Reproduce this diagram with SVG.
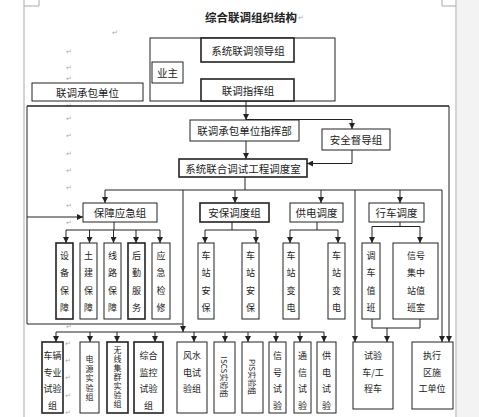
<svg xmlns="http://www.w3.org/2000/svg" width="479" height="417" viewBox="0 0 479 417">
<defs>
<marker id="ah" markerUnits="userSpaceOnUse" markerWidth="6" markerHeight="6" refX="6" refY="3" orient="auto"><path d="M0,0 L6,3 L0,6 z" fill="#222"/></marker>
<style>
.bx{fill:#fff;stroke:#222;stroke-width:1}
.bk{fill:#fff;stroke:#222;stroke-width:1.6}
.t{font-family:"Noto Sans CJK SC","Noto Sans",sans-serif;font-size:10.5px;fill:#222;text-anchor:middle;dominant-baseline:central}
.s{font-size:9px}
.xs{font-size:8px}
.vt{writing-mode:vertical-rl;font-size:8px}
.ln{stroke:#222;stroke-width:1;fill:none}
.ar{stroke:#222;stroke-width:1;fill:none;marker-end:url(#ah)}
.pm{font-family:"DejaVu Sans",sans-serif;font-size:7px;fill:#aaa;text-anchor:middle;dominant-baseline:central}
.pg{stroke:#aaa;stroke-width:1;fill:none}
</style>
</defs>
<rect width="479" height="417" fill="#fff"/>
<rect x="457" y="0" width="22" height="417" fill="#f3f3f3"/>
<g id="page">
<path class="pg" d="M24,0 V417 M24,6 H39 V0 M456,0 V417 M442,0 V6 H456"/>
<text class="t" x="251" y="17" style="font-size:11.5px;font-weight:bold">综合联调组织结构</text>
<g class="pm">
<text x="301" y="18">↵</text><text x="115" y="33">↵</text>
<text x="69" y="52">↵</text><text x="69" y="68">↵</text><text x="69" y="79">↵</text><text x="69" y="106">↵</text><text x="69" y="119">↵</text><text x="69" y="136">↵</text><text x="69" y="154">↵</text><text x="69" y="171">↵</text><text x="69" y="188">↵</text><text x="69" y="206">↵</text><text x="69" y="223">↵</text><text x="69" y="327">↵</text><text x="68" y="344">↵</text><text x="68" y="361">↵</text><text x="68" y="378">↵</text><text x="68" y="396">↵</text><text x="68" y="413">↵</text>
</g>
</g>
<g id="connectors">
<path class="ln" d="M27,106 H449" style="stroke-width:1.6"/>
<path class="ar" d="M449,106 V342"/>
<path class="ln" d="M27,106 V324 H183"/>
<path class="ar" d="M27,217 H83"/>
<path class="ar" d="M247,62 V79"/>
<path class="ar" d="M246,101 V120"/>
<path class="ln" d="M246,119.5 H352"/>
<path class="ar" d="M352,119.5 V129"/>
<path class="ar" d="M246,141 V159"/>
<path class="ar" d="M352,150 V163.5 H307"/>
<path class="ln" d="M245,177 V190 M105,190 H442"/>
<path class="ar" d="M105,190 V203"/><path class="ar" d="M235,190 V203"/><path class="ar" d="M321,190 V203"/><path class="ar" d="M400,190 V203"/>
<path class="ar" d="M183,190 V332"/>
<path class="ar" d="M355,190 V342"/>
<path class="ar" d="M442,190 V342"/>
<path class="ln" d="M114,222 V230 M66,230 H160"/>
<path class="ar" d="M66,230 V243"/><path class="ar" d="M89.5,230 V243"/><path class="ar" d="M113.5,230 V243"/><path class="ar" d="M136,230 V243"/><path class="ar" d="M160,230 V243"/>
<path class="ln" d="M232,222 V230 M205,230 H256"/>
<path class="ar" d="M205,230 V243"/><path class="ar" d="M256,230 V243"/>
<path class="ln" d="M317,222 V230 M290,230 H338"/>
<path class="ar" d="M290,230 V243"/><path class="ar" d="M338,230 V243"/>
<path class="ln" d="M400,222 V226.5 M372,226.5 H420"/>
<path class="ar" d="M372,226.5 V243"/><path class="ar" d="M420,226.5 V243"/>
<path class="ln" d="M372,319 V328 H420 V319"/>
<path class="ar" d="M387,328 V342"/>
<path class="ln" d="M56,332 H324"/>
<path class="ar" d="M56,332 V342"/><path class="ar" d="M90,332 V342"/><path class="ar" d="M117,332 V342"/><path class="ar" d="M155,332 V342"/><path class="ar" d="M194,332 V342"/><path class="ar" d="M225,332 V342"/><path class="ar" d="M248,332 V342"/><path class="ar" d="M276,332 V342"/><path class="ar" d="M300,332 V342"/><path class="ar" d="M324,332 V342"/>
</g>
<g id="owner"><rect class="bx" x="150" y="38" width="185" height="63"/></g>
<g id="lead"><rect class="bk" x="201" y="38" width="93" height="24"/><text class="t" x="248" y="50">系统联调领导组</text></g>
<g id="command"><rect class="bk" x="201" y="79" width="93" height="22"/><text class="t" x="248" y="90">联调指挥组</text></g>
<g id="yezhu"><rect class="bx" x="152" y="62" width="31" height="21"/><text class="t" x="167.5" y="72.5">业主</text></g>
<g id="contractor"><rect class="bx" x="32" y="83" width="111" height="18"/><text class="t" x="87.5" y="92">联调承包单位</text></g>
<g id="hq"><rect class="bx" x="190" y="120" width="109" height="21"/><text class="t" x="244.5" y="130.5">联调承包单位指挥部</text></g>
<g id="safety"><rect class="bx" x="322" y="129" width="68" height="21"/><text class="t" x="356" y="139.5">安全督导组</text></g>
<g id="dispatch"><rect class="bk" x="179" y="159" width="128" height="18"/><text class="t" x="243" y="168">系统联合调试工程调度室</text></g>
<g id="baozhang"><rect class="bx" x="83" y="203" width="74" height="19"/><text class="t" x="120" y="212.5">保障应急组</text></g>
<g id="anbao"><rect class="bk" x="200" y="203" width="69" height="19"/><text class="t" x="234.5" y="212.5">安保调度组</text></g>
<g id="gongdian"><rect class="bx" x="290" y="203" width="53" height="19"/><text class="t" x="316.5" y="212.5">供电调度</text></g>
<g id="xingche"><rect class="bx" x="369" y="203" width="55" height="19"/><text class="t" x="396.5" y="212.5">行车调度</text></g>
<g id="sb1"><rect class="bk" x="56" y="243" width="17" height="76"/><text class="t s"><tspan x="64.5" y="255">设</tspan><tspan x="64.5" y="272">备</tspan><tspan x="64.5" y="290">保</tspan><tspan x="64.5" y="307">障</tspan></text></g>
<g id="sb2"><rect class="bx" x="80" y="243" width="17" height="76"/><text class="t s"><tspan x="88.5" y="255">土</tspan><tspan x="88.5" y="272">建</tspan><tspan x="88.5" y="290">保</tspan><tspan x="88.5" y="307">障</tspan></text></g>
<g id="sb3"><rect class="bx" x="104" y="243" width="17" height="76"/><text class="t s"><tspan x="112.5" y="255">线</tspan><tspan x="112.5" y="272">路</tspan><tspan x="112.5" y="290">保</tspan><tspan x="112.5" y="307">障</tspan></text></g>
<g id="sb4"><rect class="bk" x="128" y="243" width="17" height="76"/><text class="t s"><tspan x="136.5" y="255">后</tspan><tspan x="136.5" y="272">勤</tspan><tspan x="136.5" y="290">服</tspan><tspan x="136.5" y="307">务</tspan></text></g>
<g id="sb5"><rect class="bx" x="152" y="243" width="18" height="76"/><text class="t s"><tspan x="161" y="255">应</tspan><tspan x="161" y="272">急</tspan><tspan x="161" y="290">检</tspan><tspan x="161" y="307">修</tspan></text></g>
<g id="ab1"><rect class="bx" x="198" y="243" width="16" height="76"/><text class="t s"><tspan x="206" y="255">车</tspan><tspan x="206" y="272">站</tspan><tspan x="206" y="290">安</tspan><tspan x="206" y="307">保</tspan></text></g>
<g id="ab2"><rect class="bx" x="242" y="243" width="17" height="76"/><text class="t s"><tspan x="250.5" y="255">车</tspan><tspan x="250.5" y="272">站</tspan><tspan x="250.5" y="290">安</tspan><tspan x="250.5" y="307">保</tspan></text></g>
<g id="gd1"><rect class="bx" x="283" y="243" width="16" height="76"/><text class="t s"><tspan x="291" y="255">车</tspan><tspan x="291" y="272">站</tspan><tspan x="291" y="290">变</tspan><tspan x="291" y="307">电</tspan></text></g>
<g id="gd2"><rect class="bx" x="328" y="243" width="17" height="76"/><text class="t s"><tspan x="336.5" y="255">车</tspan><tspan x="336.5" y="272">站</tspan><tspan x="336.5" y="290">变</tspan><tspan x="336.5" y="307">电</tspan></text></g>
<g id="xc1"><rect class="bx" x="362" y="243" width="18" height="76"/><text class="t s"><tspan x="371" y="255">调</tspan><tspan x="371" y="272">车</tspan><tspan x="371" y="290">值</tspan><tspan x="371" y="307">班</tspan></text></g>
<g id="xc2"><rect class="bx" x="393" y="243" width="45" height="76"/><text class="t s"><tspan x="416" y="255">信号</tspan><tspan x="416" y="272">集中</tspan><tspan x="416" y="290">站值</tspan><tspan x="416" y="307">班室</tspan></text></g>
<g id="b1"><rect class="bk" x="42" y="342" width="21" height="71"/><text class="t s"><tspan x="52.5" y="355">车辆</tspan><tspan x="52.5" y="372">专业</tspan><tspan x="52.5" y="388">试验</tspan><tspan x="52.5" y="405">组</tspan></text></g>
<g id="b2"><rect class="bx" x="80" y="342" width="19" height="71"/><text class="t vt" x="89.5" y="379" style="letter-spacing:1.5px">电源实验组</text></g>
<g id="b3"><rect class="bk" x="107" y="342" width="21" height="71"/><text class="t vt" x="117.5" y="377.5" style="letter-spacing:1px">无线集群实验组</text></g>
<g id="b4"><rect class="bk" x="134" y="342" width="29" height="71"/><text class="t s"><tspan x="148.5" y="355">综合</tspan><tspan x="148.5" y="372">监控</tspan><tspan x="148.5" y="388">试验</tspan><tspan x="148.5" y="405">组</tspan></text></g>
<g id="b5"><rect class="bx" x="177" y="342" width="30" height="71"/><text class="t s"><tspan x="192" y="355">风水</tspan><tspan x="192" y="372">电试</tspan><tspan x="192" y="388">验组</tspan></text></g>
<g id="b6"><rect class="bx" x="214" y="342" width="21" height="71"/><text class="t xs" transform="translate(224.5,377) rotate(90)" x="0" y="0">ISCS实验组</text></g>
<g id="b7"><rect class="bx" x="242" y="342" width="21" height="71"/><text class="t xs" transform="translate(252.5,377) rotate(90)" x="0" y="0">PIS实验组</text></g>
<g id="b8"><rect class="bx" x="269" y="342" width="17" height="71"/><text class="t s"><tspan x="277.5" y="355">信</tspan><tspan x="277.5" y="372">号</tspan><tspan x="277.5" y="388">试</tspan><tspan x="277.5" y="405">验</tspan></text></g>
<g id="b9"><rect class="bx" x="294" y="342" width="17" height="71"/><text class="t s"><tspan x="302.5" y="355">通</tspan><tspan x="302.5" y="372">信</tspan><tspan x="302.5" y="388">试</tspan><tspan x="302.5" y="405">验</tspan></text></g>
<g id="b10"><rect class="bx" x="317" y="342" width="19" height="71"/><text class="t s"><tspan x="326.5" y="355">供</tspan><tspan x="326.5" y="372">电</tspan><tspan x="326.5" y="388">试</tspan><tspan x="326.5" y="405">验</tspan></text></g>
<g id="b11"><rect class="bx" x="353" y="342" width="40" height="67"/><text class="t s"><tspan x="373" y="355">试验</tspan><tspan x="373" y="372">车/工</tspan><tspan x="373" y="388">程车</tspan></text></g>
<g id="b12"><rect class="bx" x="412" y="342" width="41" height="67"/><text class="t s"><tspan x="432" y="355">执行</tspan><tspan x="432" y="372">区施</tspan><tspan x="432" y="388">工单位</tspan></text></g>
</svg>
